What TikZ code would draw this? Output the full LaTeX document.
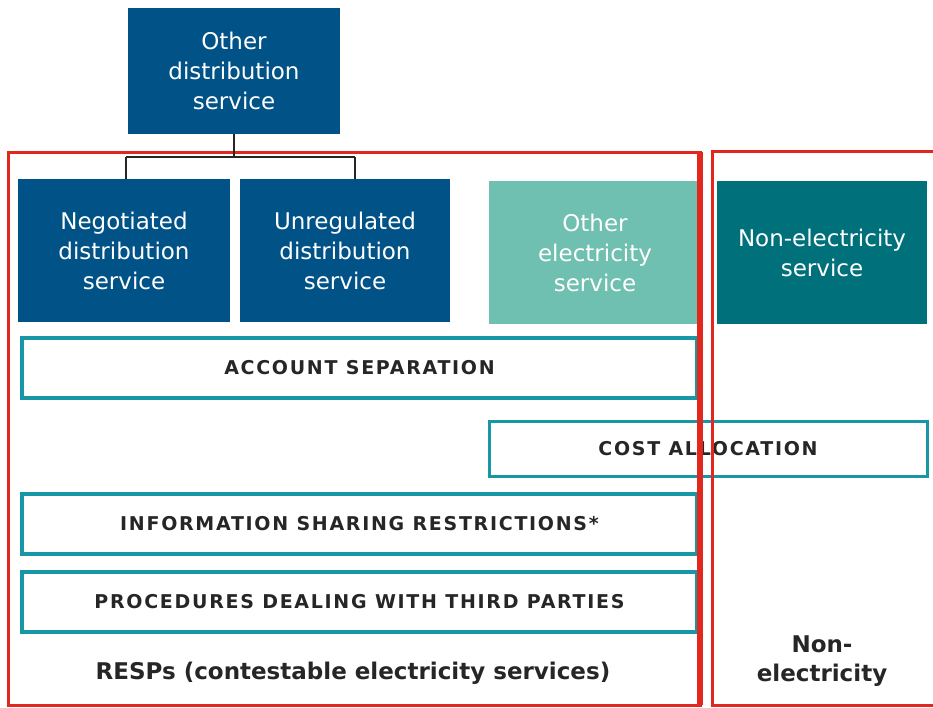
\documentclass[tikz,border=0pt]{standalone}
\usepackage{fontspec}
\setmainfont{DejaVu Sans}
\newfontfamily\capsfont[LetterSpace=9]{DejaVu Sans}
\definecolor{navy}{RGB}{0,82,135}
\definecolor{lteal}{RGB}{111,192,176}
\definecolor{dteal}{RGB}{0,112,122}
\definecolor{cyanb}{RGB}{23,150,166}
\definecolor{redb}{RGB}{227,38,30}
\tikzset{
  svc/.style={inner sep=0pt, align=center, text=white, font=\fontsize{23}{30}\selectfont},
  rule/.style={draw=cyanb, line width=4pt, inner sep=0pt, align=center, font=\capsfont\bfseries\fontsize{19}{23}\selectfont, text=black!85},
  grp/.style={draw=redb, line width=3pt},
  lbl/.style={inner sep=0pt, align=center, font=\bfseries\fontsize{23}{29}\selectfont, text=black!85},
  conn/.style={draw=black!85, line width=2pt}
}
\begin{document}
\begin{tikzpicture}[x=1pt, y=-1pt]
\useasboundingbox (0,0) rectangle (933,707);
\clip (0,0) rectangle (933,707);
% service boxes
\node[svc, fill=navy, minimum width=212pt, minimum height=126pt] (top) at (234,71) {Other\\distribution\\service};
\node[svc, fill=navy, minimum width=212pt, minimum height=143pt] (neg) at (124,250.5) {Negotiated\\distribution\\service};
\node[svc, fill=navy, minimum width=210pt, minimum height=143pt] (unr) at (345,250.5) {Unregulated\\distribution\\service};
\node[svc, fill=lteal, minimum width=212pt, minimum height=143pt] (oel) at (595,252.5) {Other\\electricity\\service};
\node[svc, fill=dteal, minimum width=210pt, minimum height=143pt] (nel) at (822,252.5) {Non-electricity\\service};
% rule boxes
\node[rule, minimum width=675pt, minimum height=60pt] (acc) at (359.5,368) {ACCOUNT SEPARATION};
\node[rule, line width=3pt, minimum width=438pt, minimum height=55pt] (cost) at (708,448.5) {COST ALLOCATION};
\node[rule, minimum width=675pt, minimum height=60pt] (info) at (359.5,524) {INFORMATION SHARING RESTRICTIONS*};
\node[rule, minimum width=675pt, minimum height=60pt] (proc) at (359.5,602) {PROCEDURES DEALING WITH THIRD PARTIES};
% group labels
\node[lbl] (resp) at (353,673) {RESPs (contestable electricity services)};
\node[lbl] (nonel) at (822,661) {Non-\\electricity};
% red group frames
\draw[grp] (8,152) rectangle (700,705);
\draw[redb, line width=5.5pt] (700,152) -- (700,705);
\draw[grp] (712,151) rectangle (945,705);
% connector
\coordinate (j) at (234,157);
\coordinate (jl) at (126,157);
\coordinate (jr) at (355,157);
\draw[conn] (top.south) -- (j);
\draw[conn] (jl) -- (jr);
\draw[conn] (jl) -- (jl |- neg.north);
\draw[conn] (jr) -- (jr |- unr.north);
\end{tikzpicture}
\end{document}
